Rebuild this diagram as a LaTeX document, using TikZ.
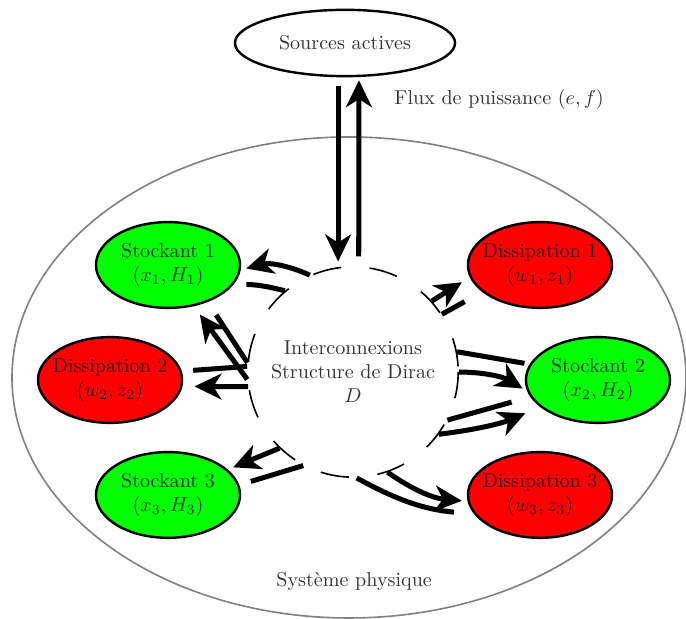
\documentclass[tikz,border=0pt]{standalone}
\usetikzlibrary{shapes.geometric,arrows.meta}
\tikzset{
  bloc/.style={ellipse, draw, very thick, align=center, minimum width=2.52cm, minimum height=1.5cm, inner xsep=-4pt},
  stockant/.style={bloc, fill=green},
  dissip/.style={bloc, fill=red},
  flux/.style={line width=2.5pt, -{Stealth[length=0.47cm, width=0.45cm, inset=0.14cm]}},
  retour/.style={line width=2.5pt},
}
\begin{document}
\begin{tikzpicture}[every node/.style={text opacity=0.8}]
  \useasboundingbox (-6.175,-4.32) rectangle (5.825,6.507);
  \draw[thick, gray] (-0.07,-0.096) ellipse [x radius=5.895cm, y radius=4.207cm];
  \node (phys) at (0.02,-3.67) {Système physique};
  \node[ellipse, draw, very thick, minimum width=3.85cm, minimum height=1.16cm] (src) at (-0.14,5.755) {Sources actives};
  \node[circle, draw, thick, dash pattern=on 0.5cm off 0.5cm, dash phase=0.9cm, minimum size=3.68cm, align=center] (D) at (0,0) {Interconnexions\\Structure de Dirac\\$D$};

  \node[stockant] (S1) at (-3.236,1.872) {Stockant 1\\$(x_1,H_1)$};
  \node[stockant] (S2) at (4.285,-0.14) {Stockant 2\\$(x_2,H_2)$};
  \node[stockant] (S3) at (-3.236,-2.151) {Stockant 3\\$(x_3,H_3)$};
  \node[dissip] (D1) at (3.271,1.872) {Dissipation 1\\$(w_1,z_1)$};
  \node[dissip] (D2) at (-4.25,-0.14) {Dissipation 2\\$(w_2,z_2)$};
  \node[dissip] (D3) at (3.271,-2.151) {Dissipation 3\\$(w_3,z_3)$};

  \draw[flux, shorten <=0.15cm] ([xshift=-0.12cm]src.south) -- ([xshift=-0.26cm,yshift=0.08cm]D.north);
  \draw[flux, shorten <=0.15cm] ([xshift=0.1cm,yshift=0.02cm]D.north) -- ([xshift=0.245cm,yshift=-0.05cm]src.south);
  \node[anchor=west] (puiss) at (0.6,4.76) {Flux de puissance $(e,f)$};

  % stockant 1
  \draw[flux, shorten >=0.1cm] (D.114) to[bend right=20] (S1.-4);
  \draw[retour, shorten <=0.23cm] (S1.-17) to[bend left=8] (D.130);
  \draw[flux, shorten >=0.18cm] (D.184) -- (S1.-58);
  \draw[retour, shorten <=0.27cm] (S1.-43) -- (D.175);
  % dissipation 2
  \draw[retour, shorten <=0.2cm] (D2.7) -- (D.177);
  \draw[flux, shorten >=0.21cm] (D.188) -- (D2.-5);
  % stockant 3
  \draw[flux, shorten >=0.1cm] (D.226) -- (S3.23);
  \draw[retour, shorten <=0.21cm] (S3.8) -- (D.242);
  % dissipation 3
  \draw[flux, shorten >=0.1cm] (D.289) to[bend right=15] (D3.185);
  \draw[retour, shorten <=0.35cm] (D3.196) to[bend left=12] (D.272);
  % stockant 2
  \draw[retour, shorten <=0.34cm] (S2.194) -- (D.333);
  \draw[flux, shorten >=0.28cm] (D.324) to[bend right=8] (S2.205);
  \draw[retour, shorten <=0.09cm] (S2.167) -- (D.11);
  \draw[flux, shorten >=0.09cm] (D.0) to[bend left=15] (S2.189);
  % dissipation 1
  \draw[flux, shorten >=0.16cm] (D.42) -- (D1.190);
  \draw[retour, shorten <=0.35cm] (D1.205) -- (D.33);
\end{tikzpicture}
\end{document}
